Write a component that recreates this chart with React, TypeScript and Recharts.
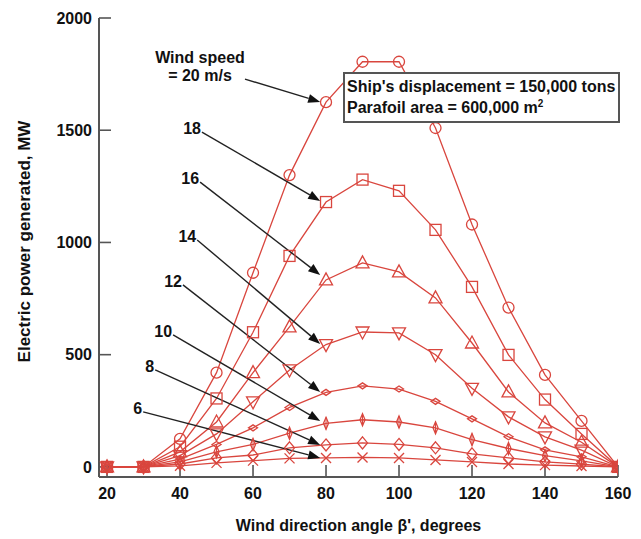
import React from 'react';
import { LineChart, Line, XAxis, YAxis, ReferenceLine } from 'recharts';

// Wind direction angle β' (degrees)
const angles = [20, 30, 40, 50, 60, 70, 80, 90, 100, 110, 120, 130, 140, 150, 160];

// Electric power generated (MW) for each wind speed (m/s)
const ws20 = [0, 0, 125, 420, 865, 1300, 1625, 1805, 1805, 1510, 1080, 710, 410, 205, 0];
const ws18 = [0, 0, 90, 305, 600, 940, 1180, 1280, 1230, 1056, 802, 499, 300, 147, 0];
const ws16 = [0, 0, 67, 200, 420, 624, 833, 909, 869, 753, 552, 334, 196, 110, 0];
const ws14 = [0, 0, 50, 147, 290, 432, 545, 601, 597, 500, 350, 223, 134, 75, 0];
const ws12 = [0, 0, 35, 100, 174, 265, 332, 361, 347, 292, 214, 134, 76, 45, 0];
const ws10 = [0, 0, 22, 67, 100, 150, 194, 210, 200, 174, 122, 82, 50, 27, 0];
const ws8 = [0, 0, 13, 40, 53, 85, 98, 107, 100, 85, 58, 40, 22, 12, 0];
const ws6 = [0, 0, 5, 18, 28, 38, 40, 42, 40, 31, 22, 13, 8, 4, 0];

const xTicks = [20, 40, 60, 80, 100, 120, 140, 160];
const yTicks = [0, 500, 1000, 1500, 2000];

const seriesList = [
  { key: 'ws20', values: ws20, marker: 'circle' },
  { key: 'ws18', values: ws18, marker: 'square' },
  { key: 'ws16', values: ws16, marker: 'triUp' },
  { key: 'ws14', values: ws14, marker: 'triDown' },
  { key: 'ws12', values: ws12, marker: 'small' },
  { key: 'ws10', values: ws10, marker: 'thin' },
  { key: 'ws8', values: ws8, marker: 'diamond' },
  { key: 'ws6', values: ws6, marker: 'cross' },
];

// Arrow annotations (labels, in data coordinates: [angle, MW])
const annotations = [
  { lines: ['Wind speed', '= 20 m/s'], from: [57.8, 1728], to: [78.4, 1626] },
  { lines: ['18'], from: [46.0, 1492], to: [78.4, 1185] },
  { lines: ['16'], from: [45.5, 1269], to: [78.4, 855] },
  { lines: ['14'], from: [44.7, 1011], to: [78.4, 548] },
  { lines: ['12'], from: [40.8, 811], to: [78.4, 334] },
  { lines: ['10'], from: [38.1, 588], to: [78.4, 205] },
  { lines: ['8'], from: [33.2, 432], to: [78.4, 98] },
  { lines: ['6'], from: [29.9, 245], to: [78.4, 40] },
];

const data = angles.map((a, i) => {
  const row: any = { angle: a };
  seriesList.forEach((s) => {
    row[s.key] = s.values[i];
  });
  return row;
});

const RED = '#d9463e';
const FONT = '"Liberation Sans", Arial, Helvetica, sans-serif';
const INK = '#111';

const Marker = ({ cx, cy, kind }: any) => {
  if (cx == null || cy == null) return null;
  const common = { fill: 'none', stroke: RED, strokeWidth: 1.3 };
  switch (kind) {
    case 'circle':
      return <circle cx={cx} cy={cy} r={5.5} {...common} />;
    case 'square':
      return <rect x={cx - 5.5} y={cy - 5.5} width={11} height={11} {...common} />;
    case 'triUp':
      return <polygon points={`${cx},${cy - 7} ${cx - 6.5},${cy + 5} ${cx + 6.5},${cy + 5}`} {...common} />;
    case 'triDown':
      return <polygon points={`${cx},${cy + 7} ${cx - 6.5},${cy - 5} ${cx + 6.5},${cy - 5}`} {...common} />;
    case 'small':
      return <polygon points={`${cx - 4.5},${cy} ${cx},${cy - 3} ${cx + 4.5},${cy} ${cx},${cy + 3}`} {...common} />;
    case 'thin':
      return (
        <g>
          <polygon points={`${cx},${cy - 6} ${cx + 2.5},${cy} ${cx},${cy + 6} ${cx - 2.5},${cy}`} {...common} />
          <line x1={cx} y1={cy - 6} x2={cx} y2={cy + 6} stroke={RED} strokeWidth={1} />
        </g>
      );
    case 'diamond':
      return <polygon points={`${cx},${cy - 6} ${cx + 5},${cy} ${cx},${cy + 6} ${cx - 5},${cy}`} {...common} />;
    case 'cross':
      return (
        <g>
          <line x1={cx - 5} y1={cy - 5} x2={cx + 5} y2={cy + 5} stroke={RED} strokeWidth={1.3} />
          <line x1={cx - 5} y1={cy + 5} x2={cx + 5} y2={cy - 5} stroke={RED} strokeWidth={1.3} />
        </g>
      );
    default:
      return null;
  }
};

const ArrowShape = ({ x1, y1, x2, y2, ann }: any) => {
  if ([x1, y1, x2, y2].some((v) => v == null || isNaN(v))) return null;
  const ang = Math.atan2(y2 - y1, x2 - x1);
  const c = Math.cos(ang);
  const s = Math.sin(ang);
  const L = 12;
  const W = 4.5;
  const bx = x2 - L * c;
  const by = y2 - L * s;
  const textStyle = { fontFamily: FONT, fontSize: 16, fontWeight: 700, fill: INK } as any;
  return (
    <g>
      <line x1={x1} y1={y1} x2={bx} y2={by} stroke="#222" strokeWidth={1.4} />
      <polygon
        points={`${x2},${y2} ${bx - W * s},${by + W * c} ${bx + W * s},${by - W * c}`}
        fill="#111"
      />
      {ann.lines.length === 1 ? (
        <text x={x1 - 1} y={y1 + 2} textAnchor="end" style={textStyle}>
          {ann.lines[0]}
        </text>
      ) : (
        <g>
          <text x={x1 - 45} y={y1 - 16} textAnchor="middle" style={textStyle}>
            {ann.lines[0]}
          </text>
          <text x={x1 - 45} y={y1 + 2} textAnchor="middle" style={textStyle}>
            {ann.lines[1]}
          </text>
        </g>
      )}
    </g>
  );
};

const XTitle = ({ viewBox }: any) => {
  if (!viewBox) return null;
  return (
    <text
      x={viewBox.x + viewBox.width / 2}
      y={viewBox.y + 54}
      textAnchor="middle"
      style={{ fontFamily: FONT, fontSize: 16, fontWeight: 700, fill: INK }}
    >
      Wind direction angle β', degrees
    </text>
  );
};

const YTitle = ({ viewBox }: any) => {
  if (!viewBox) return null;
  const x = viewBox.x + 30;
  const y = viewBox.y + viewBox.height / 2 - 6;
  return (
    <text
      x={x}
      y={y}
      transform={`rotate(-90, ${x}, ${y})`}
      textAnchor="middle"
      style={{ fontFamily: FONT, fontSize: 17, fontWeight: 700, fill: INK }}
    >
      Electric power generated, MW
    </text>
  );
};

const tickStyle = { fill: INK, fontSize: 16, fontWeight: 700, fontFamily: FONT };

export default function App() {
  return (
    <div style={{ position: 'absolute', left: 0, top: 0, width: 641, height: 539, background: '#fff' }}>
      <LineChart
        width={641}
        height={539}
        data={data}
        margin={{ top: 18, right: 23, bottom: 0, left: 0 }}
      >
        <XAxis
          dataKey="angle"
          type="number"
          domain={[17.8, 160]}
          ticks={xTicks}
          interval={0}
          allowDataOverflow
          height={62}
          tickSize={-12}
          tickMargin={23}
          axisLine={{ stroke: '#555', strokeWidth: 2 }}
          tickLine={{ stroke: '#555', strokeWidth: 1.6 }}
          tick={tickStyle}
          label={{ content: XTitle } as any}
        />
        <YAxis
          type="number"
          domain={[-45, 2000]}
          ticks={yTicks}
          interval={0}
          allowDataOverflow
          width={99}
          tickSize={-12}
          tickMargin={19}
          axisLine={{ stroke: '#555', strokeWidth: 2 }}
          tickLine={{ stroke: '#555', strokeWidth: 1.6 }}
          tick={tickStyle}
          label={{ content: YTitle } as any}
        />
        {seriesList.map((s) => (
          <Line
            key={s.key}
            dataKey={s.key}
            type="linear"
            stroke={RED}
            strokeWidth={1.3}
            isAnimationActive={false}
            dot={(p: any) => <Marker key={`${s.key}-${p.index}`} cx={p.cx} cy={p.cy} kind={s.marker} />}
            activeDot={false}
          />
        ))}
        {annotations.map((a, i) => (
          <ReferenceLine
            key={`ann-${i}`}
            segment={[
              { x: a.from[0], y: a.from[1] },
              { x: a.to[0], y: a.to[1] },
            ]}
            ifOverflow="visible"
            shape={(p: any) => <ArrowShape {...p} ann={a} />}
          />
        ))}
      </LineChart>
      <div
        style={{
          position: 'absolute',
          left: 343,
          top: 72,
          width: 277,
          height: 51,
          boxSizing: 'border-box',
          border: '2px solid #555',
          background: '#fff',
          padding: '2px 0 0 2px',
          fontFamily: FONT,
          fontSize: 16,
          fontWeight: 700,
          lineHeight: '21px',
          color: INK,
          whiteSpace: 'nowrap',
          zIndex: 2,
        }}
      >
        <div>Ship's displacement = 150,000 tons</div>
        <div>
          Parafoil area = 600,000 m
          <sup style={{ fontSize: 10, lineHeight: 0, verticalAlign: 'super' }}>2</sup>
        </div>
      </div>
    </div>
  );
}
